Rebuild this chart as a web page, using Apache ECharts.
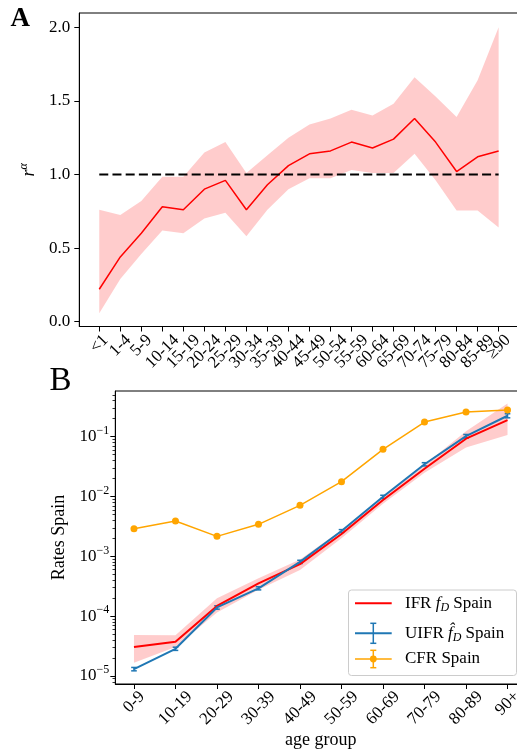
<!DOCTYPE html>
<html>
<head>
<meta charset="utf-8">
<script src="https://cdn.jsdelivr.net/npm/echarts@6/dist/echarts.min.js"></script>
<style>
  html, body { margin: 0; padding: 0; background: #fff; }
  #chart { width: 517px; height: 756px; }
</style>
</head>
<body>
<div id="chart"></div>
<script>
// ---- Panel A: ratio r^alpha by age group, with confidence band ----
const ageGroupsA = ['<1', '1-4', '5-9', '10-14', '15-19', '20-24', '25-29', '30-34', '35-39', '40-44',
                    '45-49', '50-54', '55-59', '60-64', '65-69', '70-74', '75-79', '80-84', '85-89', '≥90'];
const ratioA     = [0.22, 0.44, 0.60, 0.78, 0.76, 0.90, 0.96, 0.76, 0.93, 1.06,
                    1.14, 1.16, 1.22, 1.18, 1.24, 1.38, 1.22, 1.02, 1.12, 1.16];
const ratioLowA  = [0.057, 0.29, 0.46, 0.62, 0.60, 0.70, 0.74, 0.58, 0.76, 0.90,
                    0.975, 0.975, 1.03, 1.01, 1.01, 1.14, 0.96, 0.755, 0.755, 0.64];
const ratioHighA = [0.76, 0.725, 0.82, 0.985, 0.985, 1.15, 1.22, 1.01, 1.13, 1.25,
                    1.34, 1.38, 1.44, 1.40, 1.48, 1.66, 1.53, 1.39, 1.64, 2.00];
const refLevelA  = 1.0;
const yTicksA    = [0.0, 0.5, 1.0, 1.5, 2.0];

// ---- Panel B: fatality rates in Spain by age group (log scale) ----
const ageGroupsB = ['0-9', '10-19', '20-29', '30-39', '40-49', '50-59', '60-69', '70-79', '80-89', '90+'];
const ifrB       = [3.04e-5, 3.73e-5, 1.48e-4, 3.53e-4, 7.43e-4, 2.36e-3, 8.73e-3, 2.92e-2, 9.26e-2, 1.90e-1];
const ifrLowB    = [1.66e-5, 3.05e-5, 1.15e-4, 2.76e-4, 5.90e-4, 2.00e-3, 7.60e-3, 2.50e-2, 6.60e-2, 1.07e-1];
const ifrHighB   = [4.83e-5, 4.80e-5, 2.00e-4, 4.30e-4, 8.90e-4, 2.75e-3, 9.90e-3, 3.40e-2, 1.24e-1, 3.60e-1];
const uifrB      = [1.30e-5, 2.85e-5, 1.40e-4, 2.92e-4, 8.10e-4, 2.65e-3, 9.90e-3, 3.46e-2, 1.02e-1, 2.24e-1];
const uifrLowB   = [1.22e-5, 2.68e-5, 1.31e-4, 2.75e-4, 7.60e-4, 2.50e-3, 9.30e-3, 3.25e-2, 9.50e-2, 2.07e-1];
const uifrHighB  = [1.39e-5, 3.03e-5, 1.49e-4, 3.10e-4, 8.60e-4, 2.80e-3, 1.05e-2, 3.68e-2, 1.09e-1, 2.42e-1];
const cfrB       = [2.90e-3, 3.90e-3, 2.16e-3, 3.43e-3, 7.13e-3, 1.77e-2, 6.15e-2, 1.76e-1, 2.59e-1, 2.80e-1];
const yTickExpB  = [-5, -4, -3, -2, -1];
const minorMultB = [2, 3, 4, 5, 6, 7, 8, 9];
const minorDecB  = [-6, -5, -4, -3, -2, -1];

const FONT = '"Liberation Serif", "Times New Roman", serif';
const FS = 17;
const RED = '#ff0000', BLUE = '#1f77b4', ORANGE = '#ffa500';

// text measurement, used to centre the 45-degree tick labels under their ticks
const measureCtx = document.createElement('canvas').getContext('2d');
function textWidth(s, size) {
  measureCtx.font = size + 'px ' + FONT;
  return measureCtx.measureText(s).width;
}
// one rich style per label; padding moves the rotated box so its centre sits below the tick
function rotatedRich(labels, prefix) {
  const rich = {};
  labels.forEach((s, i) => {
    const p = 0.5 * (textWidth(s, FS) + FS);
    rich[prefix + i] = { fontSize: FS, fontFamily: FONT, color: '#000', padding: [p, p, 0, 0] };
  });
  return rich;
}
// label order: the two labels at each end of the list sit far apart, so the
// min/max overlap check never drops a neighbouring label
function spreadOrder(n) {
  const mid = Math.floor(n / 2);
  const rest = [];
  for (let i = 1; i < n - 1; i++) if (i !== mid && i !== mid - 1) rest.push(i);
  return [0, mid].concat(rest, [mid - 1, n - 1]);
}

const idxA = ageGroupsA.map((_, i) => i);
const idxB = ageGroupsB.map((_, i) => i);
const yTicksB = yTickExpB.map(e => Math.pow(10, e));
const yMinB = 7.35e-6, yMaxB = 0.581;
const minorTicksB = [];
minorDecB.forEach(d => minorMultB.forEach(m => {
  const v = m * Math.pow(10, d);
  if (v > yMinB && v < yMaxB) minorTicksB.push(v);
}));

const axisLineStyle = { show: true, onZero: false, lineStyle: { color: '#000', width: 1 } };
const tickStyle = { color: '#000', width: 1 };

const chart = echarts.init(document.getElementById('chart'), null, { renderer: 'canvas' });

const option = {
  animation: false,
  backgroundColor: '#fff',
  textStyle: { fontFamily: FONT },
  grid: [
    { left: 79.3, top: 13, width: 439.3, height: 313.5, show: true, borderColor: '#000', borderWidth: 1,
      backgroundColor: 'transparent', containLabel: false, outerBoundsMode: 'none' },
    { left: 115.3, top: 391, width: 410.9, height: 293, show: true, borderColor: '#000', borderWidth: 1,
      backgroundColor: 'transparent', containLabel: false, outerBoundsMode: 'none' }
  ],
  xAxis: [
    {
      gridIndex: 0, type: 'value', min: -0.95, max: 19.95,
      axisLine: axisLineStyle,
      axisTick: { show: true, customValues: idxA, length: 5, inside: false, lineStyle: tickStyle },
      axisLabel: {
        show: true, customValues: spreadOrder(idxA.length), rotate: 45, align: 'center', verticalAlign: 'middle', margin: 5,
        showMinLabel: true, showMaxLabel: true, hideOverlap: false,
        formatter: v => { const i = Math.round(v); return '{a' + i + '|' + ageGroupsA[i] + '}'; },
        rich: rotatedRich(ageGroupsA, 'a'), fontSize: FS, fontFamily: FONT, color: '#000'
      },
      splitLine: { show: false }
    },
    {
      gridIndex: 1, type: 'value', min: -0.45, max: 9.45,
      name: 'age group', nameLocation: 'middle', nameGap: 46,
      nameTextStyle: { fontSize: 18, fontFamily: FONT, color: '#000' },
      axisLine: axisLineStyle,
      axisTick: { show: true, customValues: idxB, length: 5, inside: false, lineStyle: tickStyle },
      axisLabel: {
        show: true, customValues: spreadOrder(idxB.length), rotate: 45, align: 'center', verticalAlign: 'middle', margin: 4,
        showMinLabel: true, showMaxLabel: true, hideOverlap: false,
        formatter: v => { const i = Math.round(v); return '{b' + i + '|' + ageGroupsB[i] + '}'; },
        rich: rotatedRich(ageGroupsB, 'b'), fontSize: FS, fontFamily: FONT, color: '#000'
      },
      splitLine: { show: false }
    }
  ],
  yAxis: [
    {
      gridIndex: 0, type: 'value', min: -0.033, max: 2.097, position: 'left',
      name: '{r|r}{s|α}', nameLocation: 'middle', nameRotate: 90, nameGap: 33,
      nameTextStyle: {
        color: '#000',
        rich: {
          r: { fontSize: 18, fontFamily: FONT, fontStyle: 'italic', lineHeight: 22, color: '#000' },
          s: { fontSize: 12, fontFamily: FONT, fontStyle: 'italic', lineHeight: 12, verticalAlign: 'top', color: '#000' }
        }
      },
      axisLine: axisLineStyle,
      axisTick: { show: true, customValues: yTicksA, length: 5, inside: false, lineStyle: tickStyle },
      axisLabel: { show: true, customValues: yTicksA, margin: 9, fontSize: FS, fontFamily: FONT, color: '#000',
                   showMinLabel: true, showMaxLabel: true, formatter: v => v.toFixed(1) },
      splitLine: { show: false }
    },
    {
      gridIndex: 1, type: 'log', logBase: 10, min: yMinB, max: yMaxB, position: 'left',
      name: 'Rates Spain', nameLocation: 'middle', nameRotate: 90, nameGap: 44,
      nameTextStyle: { fontSize: 18, fontFamily: FONT, color: '#000' },
      axisLine: axisLineStyle,
      axisTick: { show: true, customValues: yTicksB, length: 5, inside: false, lineStyle: tickStyle },
      axisLabel: {
        show: true, customValues: yTicksB, margin: 6, color: '#000', showMinLabel: true, showMaxLabel: true,
        formatter: v => '{m|10}{e|\u2212' + Math.round(-Math.log10(v)) + '}',
        rich: {
          m: { fontSize: FS, fontFamily: FONT, lineHeight: 24, color: '#000' },
          e: { fontSize: 12, fontFamily: FONT, lineHeight: 12, verticalAlign: 'top', color: '#000' }
        }
      },
      splitLine: { show: false }
    },
    {
      // minor ticks of the log axis
      gridIndex: 1, type: 'log', logBase: 10, min: yMinB, max: yMaxB, position: 'left', offset: 0,
      axisLine: { show: false, onZero: false },
      axisTick: { show: true, customValues: minorTicksB, length: 2.8, inside: false, lineStyle: { color: '#000', width: 0.8 } },
      axisLabel: { show: false },
      splitLine: { show: false }
    }
  ],
  series: [
    // Panel A confidence band
    {
      type: 'custom', xAxisIndex: 0, yAxisIndex: 0, silent: true,
      data: ratioA.map((v, i) => [i, ratioLowA[i], ratioHighA[i]]),
      encode: { x: 0, y: [1, 2] },
      renderItem: (params, api) => {
        if (params.dataIndex !== 0) return null;
        const up = ratioHighA.map((v, i) => api.coord([i, v]));
        const lo = ratioLowA.map((v, i) => api.coord([i, v])).reverse();
        return { type: 'polygon', shape: { points: up.concat(lo) }, style: { fill: 'rgba(255,0,0,0.2)' } };
      }
    },
    {
      type: 'line', xAxisIndex: 0, yAxisIndex: 0, silent: true,
      data: ratioA.map((v, i) => [i, v]),
      symbol: 'none', lineStyle: { color: RED, width: 1.5 }, itemStyle: { color: RED }
    },
    {
      type: 'line', xAxisIndex: 0, yAxisIndex: 0, silent: true,
      data: [[idxA[0], refLevelA], [idxA[idxA.length - 1], refLevelA]],
      symbol: 'none', lineStyle: { color: '#000', width: 2, type: [9, 4.2] }, itemStyle: { color: '#000' }
    },
    // Panel B: IFR band and line
    {
      type: 'custom', xAxisIndex: 1, yAxisIndex: 1, silent: true,
      data: ifrB.map((v, i) => [i, ifrLowB[i], ifrHighB[i]]),
      encode: { x: 0, y: [1, 2] },
      renderItem: (params, api) => {
        if (params.dataIndex !== 0) return null;
        const up = ifrHighB.map((v, i) => api.coord([i, v]));
        const lo = ifrLowB.map((v, i) => api.coord([i, v])).reverse();
        return { type: 'polygon', shape: { points: up.concat(lo) }, style: { fill: 'rgba(255,0,0,0.2)' } };
      }
    },
    {
      type: 'line', xAxisIndex: 1, yAxisIndex: 1, silent: true,
      data: ifrB.map((v, i) => [i, v]),
      symbol: 'none', lineStyle: { color: RED, width: 2 }, itemStyle: { color: RED }
    },
    // UIFR line with error bars
    {
      type: 'line', xAxisIndex: 1, yAxisIndex: 1, silent: true,
      data: uifrB.map((v, i) => [i, v]),
      symbol: 'none', lineStyle: { color: BLUE, width: 2 }, itemStyle: { color: BLUE }
    },
    {
      type: 'custom', xAxisIndex: 1, yAxisIndex: 1, silent: true,
      data: uifrB.map((v, i) => [i, uifrLowB[i], uifrHighB[i]]),
      encode: { x: 0, y: [1, 2] },
      renderItem: (params, api) => {
        const i = api.value(0);
        const lo = api.coord([i, api.value(1)]);
        const hi = api.coord([i, api.value(2)]);
        const c = 2.8;
        const st = { stroke: BLUE, lineWidth: 1.5 };
        return {
          type: 'group', children: [
            { type: 'line', shape: { x1: lo[0], y1: lo[1], x2: hi[0], y2: hi[1] }, style: st },
            { type: 'line', shape: { x1: lo[0] - c, y1: lo[1], x2: lo[0] + c, y2: lo[1] }, style: st },
            { type: 'line', shape: { x1: hi[0] - c, y1: hi[1], x2: hi[0] + c, y2: hi[1] }, style: st }
          ]
        };
      }
    },
    // CFR line with markers
    {
      type: 'line', xAxisIndex: 1, yAxisIndex: 1, silent: true,
      data: cfrB.map((v, i) => [i, v]),
      symbol: 'circle', symbolSize: 7,
      lineStyle: { color: ORANGE, width: 1.5 }, itemStyle: { color: ORANGE, borderWidth: 0 }
    }
  ],
  graphic: [
    // panel letters
    { type: 'text', x: 10.5, y: 19.5, silent: true,
      style: { text: 'A', fontSize: 27, fontWeight: 'bold', fontFamily: FONT, fill: '#000',
               align: 'left', verticalAlign: 'middle', textAlign: 'left', textVerticalAlign: 'middle' } },
    { type: 'text', x: 49.5, y: 381, silent: true,
      style: { text: 'B', fontSize: 33, fontFamily: FONT, fill: '#000',
               align: 'left', verticalAlign: 'middle', textAlign: 'left', textVerticalAlign: 'middle' } },
    // legend of panel B
    {
      type: 'group', silent: true, z: 100,
      children: [
        { type: 'rect', shape: { x: 348.5, y: 590, width: 168, height: 85.5, r: 3 },
          style: { fill: 'rgba(255,255,255,0.8)', stroke: '#cccccc', lineWidth: 1 } },
        { type: 'line', shape: { x1: 355, y1: 603.3, x2: 391.7, y2: 603.3 }, style: { stroke: RED, lineWidth: 2 } },
        { type: 'line', shape: { x1: 355, y1: 633.3, x2: 391.7, y2: 633.3 }, style: { stroke: BLUE, lineWidth: 2 } },
        { type: 'line', shape: { x1: 373.3, y1: 623.3, x2: 373.3, y2: 643.3 }, style: { stroke: BLUE, lineWidth: 1.5 } },
        { type: 'line', shape: { x1: 370.3, y1: 623.3, x2: 376.3, y2: 623.3 }, style: { stroke: BLUE, lineWidth: 1.5 } },
        { type: 'line', shape: { x1: 370.3, y1: 643.3, x2: 376.3, y2: 643.3 }, style: { stroke: BLUE, lineWidth: 1.5 } },
        { type: 'line', shape: { x1: 355, y1: 659, x2: 391.7, y2: 659 }, style: { stroke: ORANGE, lineWidth: 1.5 } },
        { type: 'line', shape: { x1: 373.3, y1: 650.3, x2: 373.3, y2: 667.7 }, style: { stroke: ORANGE, lineWidth: 1.5 } },
        { type: 'line', shape: { x1: 370.3, y1: 650.3, x2: 376.3, y2: 650.3 }, style: { stroke: ORANGE, lineWidth: 1.5 } },
        { type: 'line', shape: { x1: 370.3, y1: 667.7, x2: 376.3, y2: 667.7 }, style: { stroke: ORANGE, lineWidth: 1.5 } },
        { type: 'circle', shape: { cx: 373.3, cy: 659, r: 3.4 }, style: { fill: ORANGE } },
        { type: 'text', x: 405, y: 603.3,
          style: { text: '{n|IFR }{i|f}{s|D}{n| Spain}', align: 'left', verticalAlign: 'middle',
                   textAlign: 'left', textVerticalAlign: 'middle', fill: '#000',
                   rich: {
                     n: { fontSize: FS, fontFamily: FONT, lineHeight: 22, fill: '#000' },
                     i: { fontSize: FS, fontFamily: FONT, fontStyle: 'italic', lineHeight: 22, fill: '#000' },
                     s: { fontSize: 12, fontFamily: FONT, fontStyle: 'italic', lineHeight: 12, verticalAlign: 'bottom', fill: '#000' }
                   } } },
        { type: 'text', x: 405, y: 633.3,
          style: { text: '{n|UIFR }{i|f\u0302}{s|D}{n| Spain}', align: 'left', verticalAlign: 'middle',
                   textAlign: 'left', textVerticalAlign: 'middle', fill: '#000',
                   rich: {
                     n: { fontSize: FS, fontFamily: FONT, lineHeight: 22, fill: '#000' },
                     i: { fontSize: FS, fontFamily: FONT, fontStyle: 'italic', lineHeight: 22, fill: '#000' },
                     s: { fontSize: 12, fontFamily: FONT, fontStyle: 'italic', lineHeight: 12, verticalAlign: 'bottom', fill: '#000' }
                   } } },
        { type: 'text', x: 405, y: 659,
          style: { text: 'CFR Spain', fontSize: FS, fontFamily: FONT, fill: '#000',
                   align: 'left', verticalAlign: 'middle', textAlign: 'left', textVerticalAlign: 'middle' } }
      ]
    }
  ]
};

chart.setOption(option);
</script>
</body>
</html>
